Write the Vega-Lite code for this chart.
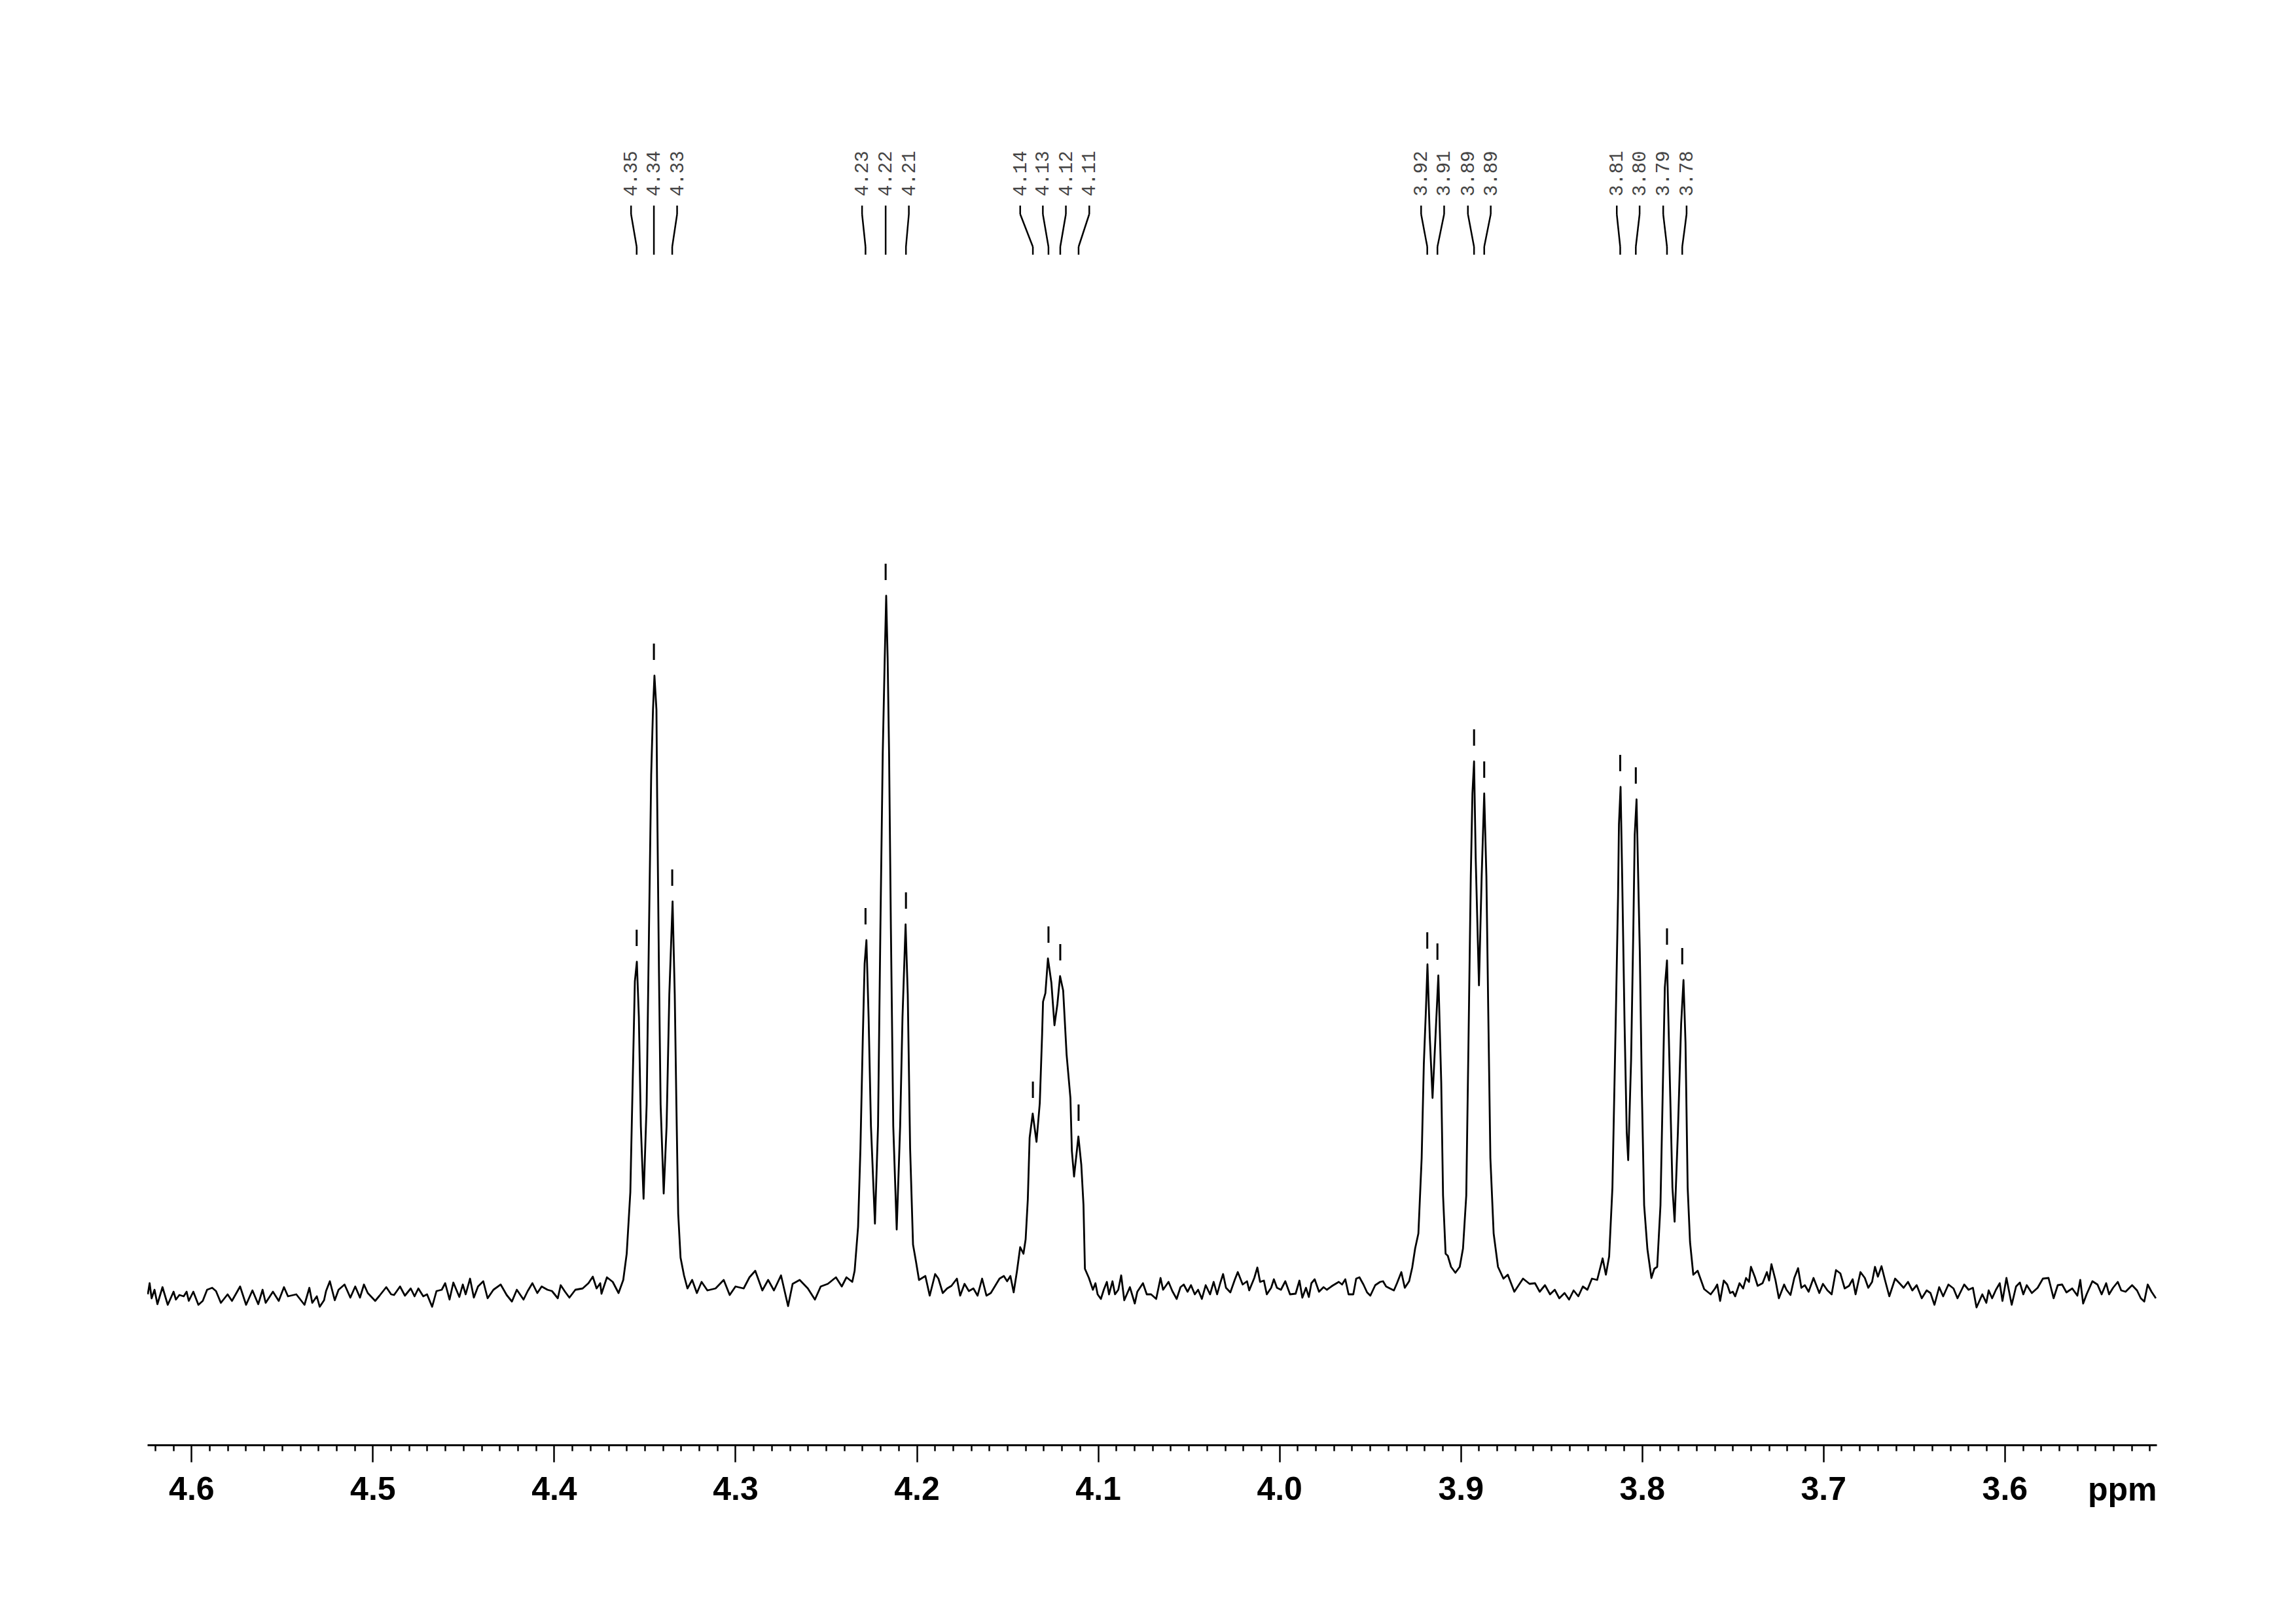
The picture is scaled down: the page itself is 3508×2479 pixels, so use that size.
{
  "$schema": "https://vega.github.io/schema/vega-lite/v6.json",
  "width": 3070,
  "height": 2207,
  "autosize": {"type": "none"},
  "padding": {"left": 225, "top": 0, "right": 213, "bottom": 272},
  "background": "white",
  "config": {"view": {"stroke": null}},
  "datasets": {
    "spectrum": [
      {"ppm":4.6240,"i":-12},{"ppm":4.6230,"i":5},{"ppm":4.6219,"i":-18},{"ppm":4.6203,"i":-5},{"ppm":4.6187,"i":-27},{"ppm":4.6159,"i":-1},{"ppm":4.6130,"i":-28},{"ppm":4.6098,"i":-8},{"ppm":4.6085,"i":-20},{"ppm":4.6066,"i":-13},{"ppm":4.6042,"i":-15},{"ppm":4.6026,"i":-8},{"ppm":4.6014,"i":-22},{"ppm":4.5989,"i":-8},{"ppm":4.5961,"i":-28},{"ppm":4.5937,"i":-22},{"ppm":4.5913,"i":-5},{"ppm":4.5885,"i":-2},{"ppm":4.5864,"i":-7},{"ppm":4.5837,"i":-25},{"ppm":4.5800,"i":-12},{"ppm":4.5776,"i":-22},{"ppm":4.5731,"i":0},{"ppm":4.5698,"i":-28},{"ppm":4.5663,"i":-6},{"ppm":4.5631,"i":-27},{"ppm":4.5607,"i":-5},{"ppm":4.5590,"i":-25},{"ppm":4.5550,"i":-8},{"ppm":4.5518,"i":-22},{"ppm":4.5489,"i":-1},{"ppm":4.5467,"i":-15},{"ppm":4.5421,"i":-12},{"ppm":4.5376,"i":-28},{"ppm":4.5349,"i":-2},{"ppm":4.5333,"i":-25},{"ppm":4.5308,"i":-15},{"ppm":4.5292,"i":-31},{"ppm":4.5268,"i":-21},{"ppm":4.5257,"i":-7},{"ppm":4.5236,"i":8},{"ppm":4.5209,"i":-21},{"ppm":4.5188,"i":-5},{"ppm":4.5155,"i":3},{"ppm":4.5123,"i":-17},{"ppm":4.5096,"i":0},{"ppm":4.5070,"i":-17},{"ppm":4.5048,"i":3},{"ppm":4.5027,"i":-10},{"ppm":4.4986,"i":-22},{"ppm":4.4962,"i":-14},{"ppm":4.4925,"i":-1},{"ppm":4.4898,"i":-12},{"ppm":4.4882,"i":-13},{"ppm":4.4849,"i":0},{"ppm":4.4822,"i":-14},{"ppm":4.4790,"i":-3},{"ppm":4.4769,"i":-15},{"ppm":4.4748,"i":-3},{"ppm":4.4721,"i":-15},{"ppm":4.4700,"i":-12},{"ppm":4.4672,"i":-31},{"ppm":4.4648,"i":-7},{"ppm":4.4619,"i":-5},{"ppm":4.4600,"i":5},{"ppm":4.4576,"i":-20},{"ppm":4.4555,"i":6},{"ppm":4.4522,"i":-16},{"ppm":4.4503,"i":3},{"ppm":4.4487,"i":-12},{"ppm":4.4463,"i":12},{"ppm":4.4442,"i":-17},{"ppm":4.4419,"i":0},{"ppm":4.4390,"i":8},{"ppm":4.4366,"i":-18},{"ppm":4.4334,"i":-5},{"ppm":4.4294,"i":3},{"ppm":4.4261,"i":-13},{"ppm":4.4232,"i":-23},{"ppm":4.4205,"i":-5},{"ppm":4.4168,"i":-20},{"ppm":4.4145,"i":-7},{"ppm":4.4119,"i":5},{"ppm":4.4092,"i":-10},{"ppm":4.4068,"i":0},{"ppm":4.4036,"i":-5},{"ppm":4.4011,"i":-7},{"ppm":4.3979,"i":-18},{"ppm":4.3963,"i":2},{"ppm":4.3939,"i":-8},{"ppm":4.3915,"i":-17},{"ppm":4.3882,"i":-5},{"ppm":4.3842,"i":-3},{"ppm":4.3810,"i":5},{"ppm":4.3786,"i":15},{"ppm":4.3765,"i":-3},{"ppm":4.3745,"i":5},{"ppm":4.3738,"i":-11},
      {"ppm":4.3708,"i":14},{"ppm":4.3676,"i":7},{"ppm":4.3644,"i":-10},{"ppm":4.3618,"i":10},{"ppm":4.3599,"i":50},{"ppm":4.3579,"i":144},{"ppm":4.3566,"i":312},{"ppm":4.3554,"i":466},{"ppm":4.3543,"i":496},{"ppm":4.3532,"i":412},{"ppm":4.3521,"i":245},{"ppm":4.3506,"i":134},{"ppm":4.3489,"i":278},{"ppm":4.3476,"i":546},{"ppm":4.3464,"i":781},{"ppm":4.3454,"i":881},{"ppm":4.3446,"i":933},{"ppm":4.3435,"i":881},{"ppm":4.3431,"i":747},{"ppm":4.3421,"i":479},{"ppm":4.3412,"i":278},{"ppm":4.3395,"i":142},{"ppm":4.3379,"i":245},{"ppm":4.3364,"i":446},{"ppm":4.3346,"i":588},{"ppm":4.3334,"i":446},{"ppm":4.3325,"i":278},{"ppm":4.3315,"i":111},{"ppm":4.3302,"i":44},{"ppm":4.3283,"i":17},{"ppm":4.3264,"i":-3},{"ppm":4.3238,"i":10},{"ppm":4.3212,"i":-10},{"ppm":4.3186,"i":7},{"ppm":4.3154,"i":-6},{"ppm":4.3109,"i":-3},{"ppm":4.3064,"i":10},{"ppm":4.3031,"i":-13},{"ppm":4.2999,"i":0},{"ppm":4.2954,"i":-3},{"ppm":4.2922,"i":14},{"ppm":4.2890,"i":24},{"ppm":4.2851,"i":-6},{"ppm":4.2819,"i":10},{"ppm":4.2787,"i":-6},{"ppm":4.2748,"i":17},{"ppm":4.2709,"i":-30},{"ppm":4.2684,"i":4},{"ppm":4.2645,"i":10},{"ppm":4.2600,"i":-3},{"ppm":4.2561,"i":-20},{"ppm":4.2529,"i":0},{"ppm":4.2490,"i":4},{"ppm":4.2445,"i":14},{"ppm":4.2413,"i":0},{"ppm":4.2387,"i":14},{"ppm":4.2355,"i":7},{"ppm":4.2342,"i":24},{"ppm":4.2323,"i":91},{"ppm":4.2310,"i":211},{"ppm":4.2297,"i":379},{"ppm":4.2287,"i":493},{"ppm":4.2277,"i":529},{"ppm":4.2265,"i":412},{"ppm":4.2252,"i":245},{"ppm":4.2230,"i":96},{"ppm":4.2213,"i":245},{"ppm":4.2200,"i":546},{"ppm":4.2187,"i":814},{"ppm":4.2176,"i":960},{"ppm":4.2168,"i":1055},{"ppm":4.2160,"i":960},{"ppm":4.2152,"i":814},{"ppm":4.2142,"i":546},{"ppm":4.2129,"i":245},{"ppm":4.2110,"i":87},{"ppm":4.2091,"i":245},{"ppm":4.2078,"i":412},{"ppm":4.2061,"i":553},{"ppm":4.2049,"i":446},{"ppm":4.2036,"i":211},{"ppm":4.2020,"i":64},{"ppm":4.2003,"i":37},{"ppm":4.1987,"i":10},
      {"ppm":4.1952,"i":16},{"ppm":4.1928,"i":-14},{"ppm":4.1898,"i":19},{"ppm":4.1880,"i":12},{"ppm":4.1856,"i":-10},{"ppm":4.1832,"i":-3},{"ppm":4.1808,"i":1},{"ppm":4.1778,"i":12},{"ppm":4.1760,"i":-14},{"ppm":4.1736,"i":4},{"ppm":4.1712,"i":-7},{"ppm":4.1687,"i":-3},{"ppm":4.1664,"i":-14},{"ppm":4.1639,"i":12},{"ppm":4.1615,"i":-14},{"ppm":4.1591,"i":-10},{"ppm":4.1567,"i":1},{"ppm":4.1543,"i":12},{"ppm":4.1519,"i":16},{"ppm":4.1501,"i":8},{"ppm":4.1483,"i":16},{"ppm":4.1465,"i":-9},
      {"ppm":4.1447,"i":23},{"ppm":4.1429,"i":60},{"ppm":4.1411,"i":50},{"ppm":4.1399,"i":72},{"ppm":4.1387,"i":133},{"ppm":4.1377,"i":227},{"ppm":4.1360,"i":264},{"ppm":4.1339,"i":221},{"ppm":4.1321,"i":280},{"ppm":4.1308,"i":386},{"ppm":4.1303,"i":435},{"ppm":4.1290,"i":448},{"ppm":4.1276,"i":501},{"ppm":4.1257,"i":464},{"ppm":4.1240,"i":399},{"ppm":4.1224,"i":431},{"ppm":4.1209,"i":474},{"ppm":4.1192,"i":452},{"ppm":4.1173,"i":354},{"ppm":4.1152,"i":288},{"ppm":4.1144,"i":207},{"ppm":4.1132,"i":168},{"ppm":4.1108,"i":229},{"ppm":4.1092,"i":186},{"ppm":4.1080,"i":125},{"ppm":4.1072,"i":27},{"ppm":4.1050,"i":13},
      {"ppm":4.1028,"i":-5},{"ppm":4.1014,"i":5},{"ppm":4.1002,"i":-12},{"ppm":4.0984,"i":-19},{"ppm":4.0968,"i":-5},{"ppm":4.0951,"i":7},{"ppm":4.0939,"i":-12},{"ppm":4.0920,"i":8},{"ppm":4.0906,"i":-12},{"ppm":4.0888,"i":-5},{"ppm":4.0872,"i":17},{"ppm":4.0855,"i":-21},{"ppm":4.0824,"i":-1},{"ppm":4.0797,"i":-26},{"ppm":4.0783,"i":-8},{"ppm":4.0752,"i":5},{"ppm":4.0731,"i":-12},{"ppm":4.0707,"i":-12},{"ppm":4.0679,"i":-19},{"ppm":4.0655,"i":13},{"ppm":4.0641,"i":-5},{"ppm":4.0611,"i":7},{"ppm":4.0590,"i":-7},{"ppm":4.0566,"i":-19},{"ppm":4.0545,"i":-1},{"ppm":4.0527,"i":3},{"ppm":4.0506,"i":-8},{"ppm":4.0487,"i":2},{"ppm":4.0466,"i":-12},{"ppm":4.0448,"i":-5},{"ppm":4.0427,"i":-19},{"ppm":4.0406,"i":2},{"ppm":4.0382,"i":-12},{"ppm":4.0362,"i":7},{"ppm":4.0343,"i":-12},{"ppm":4.0326,"i":5},{"ppm":4.0310,"i":19},{"ppm":4.0294,"i":-2},{"ppm":4.0270,"i":-9},{"ppm":4.0246,"i":10},{"ppm":4.0229,"i":22},{"ppm":4.0202,"i":3},{"ppm":4.0178,"i":8},{"ppm":4.0166,"i":-6},{"ppm":4.0138,"i":13},{"ppm":4.0121,"i":29},{"ppm":4.0106,"i":7},{"ppm":4.0085,"i":9},{"ppm":4.0069,"i":-12},{"ppm":4.0045,"i":-2},{"ppm":4.0030,"i":11},{"ppm":4.0013,"i":-2},{"ppm":3.9991,"i":-5},{"ppm":3.9967,"i":8},{"ppm":3.9941,"i":-12},{"ppm":3.9910,"i":-11},{"ppm":3.9889,"i":9},{"ppm":3.9873,"i":-17},{"ppm":3.9853,"i":-2},{"ppm":3.9837,"i":-16},{"ppm":3.9823,"i":5},{"ppm":3.9805,"i":11},{"ppm":3.9781,"i":-8},{"ppm":3.9756,"i":-1},{"ppm":3.9738,"i":-5},{"ppm":3.9708,"i":1},{"ppm":3.9672,"i":7},{"ppm":3.9654,"i":3},{"ppm":3.9636,"i":11},{"ppm":3.9618,"i":-12},{"ppm":3.9592,"i":-12},{"ppm":3.9576,"i":12},{"ppm":3.9558,"i":14},{"ppm":3.9536,"i":3},{"ppm":3.9516,"i":-9},{"ppm":3.9498,"i":-14},{"ppm":3.9471,"i":2},{"ppm":3.9444,"i":7},{"ppm":3.9428,"i":8},{"ppm":3.9411,"i":0},{"ppm":3.9390,"i":-3},{"ppm":3.9368,"i":-6},{"ppm":3.9351,"i":5},{"ppm":3.9327,"i":22},{"ppm":3.9308,"i":-2},{"ppm":3.9284,"i":8},{"ppm":3.9267,"i":29},
      {"ppm":3.9251,"i":58},{"ppm":3.9233,"i":81},{"ppm":3.9215,"i":196},{"ppm":3.9203,"i":340},{"ppm":3.9191,"i":426},{"ppm":3.9183,"i":492},{"ppm":3.9170,"i":380},{"ppm":3.9155,"i":288},{"ppm":3.9139,"i":380},{"ppm":3.9123,"i":475},{"ppm":3.9107,"i":311},{"ppm":3.9097,"i":139},{"ppm":3.9083,"i":50},{"ppm":3.9071,"i":47},{"ppm":3.9053,"i":30},{"ppm":3.9029,"i":21},{"ppm":3.9005,"i":30},{"ppm":3.8987,"i":58},{"ppm":3.8969,"i":139},{"ppm":3.8957,"i":368},{"ppm":3.8944,"i":627},{"ppm":3.8935,"i":753},{"ppm":3.8926,"i":802},{"ppm":3.8917,"i":655},{"ppm":3.8899,"i":460},{"ppm":3.8884,"i":627},{"ppm":3.8870,"i":753},{"ppm":3.8858,"i":627},{"ppm":3.8848,"i":426},{"ppm":3.8836,"i":196},{"ppm":3.8818,"i":81},{"ppm":3.8794,"i":30},{"ppm":3.8764,"i":12},{"ppm":3.8740,"i":18},{"ppm":3.8704,"i":-8},{"ppm":3.8656,"i":12},{"ppm":3.8620,"i":4},
      {"ppm":3.8590,"i":5},{"ppm":3.8564,"i":-8},{"ppm":3.8535,"i":2},{"ppm":3.8507,"i":-12},{"ppm":3.8481,"i":-5},{"ppm":3.8456,"i":-18},{"ppm":3.8427,"i":-10},{"ppm":3.8402,"i":-20},{"ppm":3.8377,"i":-6},{"ppm":3.8351,"i":-15},{"ppm":3.8326,"i":0},{"ppm":3.8301,"i":-5},{"ppm":3.8276,"i":12},
      {"ppm":3.8247,"i":10},{"ppm":3.8217,"i":43},{"ppm":3.8199,"i":18},{"ppm":3.8181,"i":46},{"ppm":3.8163,"i":151},{"ppm":3.8145,"i":401},{"ppm":3.8132,"i":595},{"ppm":3.8127,"i":706},{"ppm":3.8118,"i":763},{"ppm":3.8109,"i":623},{"ppm":3.8096,"i":401},{"ppm":3.8084,"i":235},{"ppm":3.8076,"i":193},{"ppm":3.8060,"i":346},{"ppm":3.8048,"i":540},{"ppm":3.8040,"i":690},{"ppm":3.8030,"i":744},{"ppm":3.8012,"i":512},{"ppm":3.8000,"i":290},{"ppm":3.7988,"i":124},{"ppm":3.7970,"i":57},{"ppm":3.7948,"i":13},{"ppm":3.7932,"i":27},{"ppm":3.7916,"i":30},{"ppm":3.7898,"i":124},{"ppm":3.7886,"i":290},{"ppm":3.7874,"i":457},{"ppm":3.7862,"i":498},{"ppm":3.7844,"i":290},{"ppm":3.7832,"i":151},{"ppm":3.7820,"i":99},{"ppm":3.7802,"i":235},{"ppm":3.7784,"i":401},{"ppm":3.7771,"i":468},{"ppm":3.7760,"i":373},{"ppm":3.7748,"i":151},{"ppm":3.7735,"i":68},{"ppm":3.7717,"i":18},{"ppm":3.7693,"i":24},{"ppm":3.7657,"i":-4},{"ppm":3.7621,"i":-12},
      {"ppm":3.7597,"i":-3},{"ppm":3.7585,"i":3},{"ppm":3.7569,"i":-22},{"ppm":3.7549,"i":9},{"ppm":3.7530,"i":3},{"ppm":3.7514,"i":-10},{"ppm":3.7499,"i":-8},{"ppm":3.7486,"i":-15},{"ppm":3.7462,"i":5},{"ppm":3.7442,"i":-3},{"ppm":3.7426,"i":13},{"ppm":3.7410,"i":7},{"ppm":3.7399,"i":30},{"ppm":3.7378,"i":15},{"ppm":3.7362,"i":1},{"ppm":3.7335,"i":5},{"ppm":3.7311,"i":22},{"ppm":3.7299,"i":9},{"ppm":3.7286,"i":34},{"ppm":3.7264,"i":10},{"ppm":3.7245,"i":-18},{"ppm":3.7216,"i":3},{"ppm":3.7203,"i":-5},{"ppm":3.7181,"i":-13},{"ppm":3.7160,"i":13},{"ppm":3.7139,"i":28},{"ppm":3.7121,"i":-2},{"ppm":3.7102,"i":2},{"ppm":3.7081,"i":-8},{"ppm":3.7054,"i":13},{"ppm":3.7022,"i":-10},{"ppm":3.7002,"i":4},{"ppm":3.6977,"i":-6},{"ppm":3.6954,"i":-12},{"ppm":3.6930,"i":25},{"ppm":3.6906,"i":20},{"ppm":3.6882,"i":-3},{"ppm":3.6858,"i":1},{"ppm":3.6838,"i":11},{"ppm":3.6822,"i":-12},{"ppm":3.6795,"i":22},{"ppm":3.6771,"i":13},{"ppm":3.6752,"i":-2},{"ppm":3.6731,"i":7},{"ppm":3.6715,"i":30},{"ppm":3.6699,"i":15},{"ppm":3.6679,"i":31},{"ppm":3.6660,"i":10},{"ppm":3.6636,"i":-15},{"ppm":3.6604,"i":12},{"ppm":3.6580,"i":5},{"ppm":3.6557,"i":-2},{"ppm":3.6533,"i":7},{"ppm":3.6509,"i":-6},{"ppm":3.6485,"i":2},{"ppm":3.6457,"i":-18},{"ppm":3.6430,"i":-6},{"ppm":3.6409,"i":-10},{"ppm":3.6387,"i":-28},{"ppm":3.6361,"i":-1},{"ppm":3.6339,"i":-15},{"ppm":3.6310,"i":3},{"ppm":3.6282,"i":-3},{"ppm":3.6260,"i":-18},{"ppm":3.6223,"i":3},{"ppm":3.6199,"i":-5},{"ppm":3.6175,"i":-2},{"ppm":3.6155,"i":-32},{"ppm":3.6123,"i":-12},{"ppm":3.6101,"i":-25},{"ppm":3.6088,"i":-6},{"ppm":3.6069,"i":-18},{"ppm":3.6048,"i":-5},{"ppm":3.6027,"i":5},{"ppm":3.6012,"i":-22},{"ppm":3.5990,"i":13},{"ppm":3.5961,"i":-28},{"ppm":3.5937,"i":0},{"ppm":3.5916,"i":6},{"ppm":3.5897,"i":-12},{"ppm":3.5878,"i":2},{"ppm":3.5850,"i":-10},{"ppm":3.5818,"i":-2},{"ppm":3.5789,"i":12},{"ppm":3.5758,"i":13},{"ppm":3.5730,"i":-18},{"ppm":3.5707,"i":2},{"ppm":3.5683,"i":3},{"ppm":3.5659,"i":-9},{"ppm":3.5627,"i":-3},{"ppm":3.5599,"i":-14},{"ppm":3.5583,"i":10},{"ppm":3.5567,"i":-26},{"ppm":3.5548,"i":-12},{"ppm":3.5516,"i":8},{"ppm":3.5488,"i":3},{"ppm":3.5465,"i":-12},{"ppm":3.5440,"i":5},{"ppm":3.5424,"i":-12},{"ppm":3.5402,"i":-2},{"ppm":3.5376,"i":7},{"ppm":3.5357,"i":-6},{"ppm":3.5333,"i":-8},{"ppm":3.5297,"i":2},{"ppm":3.5270,"i":-6},{"ppm":3.5249,"i":-18},{"ppm":3.5230,"i":-23},{"ppm":3.5211,"i":3},{"ppm":3.5190,"i":-8},{"ppm":3.5166,"i":-18}
    ],
    "peaks": [
      {"label":"4.35","lx":4.3575,"px":4.3544,"h":496},
      {"label":"4.34","lx":4.3449,"px":4.3449,"h":933},
      {"label":"4.33","lx":4.3321,"px":4.3348,"h":588},
      {"label":"4.23","lx":4.2301,"px":4.2282,"h":529},
      {"label":"4.22","lx":4.2171,"px":4.2171,"h":1055},
      {"label":"4.21","lx":4.2043,"px":4.2059,"h":553},
      {"label":"4.14","lx":4.1429,"px":4.1359,"h":264},
      {"label":"4.13","lx":4.1304,"px":4.1273,"h":501},
      {"label":"4.12","lx":4.1177,"px":4.1208,"h":474},
      {"label":"4.11","lx":4.1048,"px":4.1107,"h":229},
      {"label":"3.92","lx":3.9218,"px":3.9184,"h":492},
      {"label":"3.91","lx":3.9091,"px":3.9128,"h":475},
      {"label":"3.89","lx":3.8960,"px":3.8926,"h":802},
      {"label":"3.89","lx":3.8834,"px":3.8870,"h":753},
      {"label":"3.81","lx":3.8139,"px":3.8120,"h":763},
      {"label":"3.80","lx":3.8013,"px":3.8034,"h":744},
      {"label":"3.79","lx":3.7883,"px":3.7862,"h":498},
      {"label":"3.78","lx":3.7754,"px":3.7778,"h":468}
    ]
  },
  "resolve": {"axis": {"x": "independent"}},
  "layer": [
    {
      "data": {"name": "spectrum"},
      "mark": {"type": "line", "color": "black", "strokeWidth": 2.8, "strokeJoin": "round", "clip": true},
      "encoding": {
        "x": {
          "field": "ppm", "type": "quantitative",
          "scale": {"domain": [3.5162, 4.6243], "reverse": true, "nice": false, "zero": false},
          "axis": {
            "orient": "bottom",
            "values": [3.6, 3.7, 3.8, 3.9, 4.0, 4.1, 4.2, 4.3, 4.4, 4.5, 4.6],
            "format": ".1f",
            "tickSize": 26,
            "labelPadding": 17,
            "labelFont": "Liberation Sans", "labelFontWeight": "bold", "labelFontSize": 50, "labelColor": "black",
            "labelOverlap": false, "labelFlush": false, "labelBound": false,
            "domainColor": "black", "domainWidth": 3, "tickColor": "black", "tickWidth": 2.5,
            "grid": false,
            "title": "ppm", "titleFont": "Liberation Sans", "titleFontWeight": "bold", "titleFontSize": 50, "titleColor": "black",
            "titleAnchor": "end", "titleAlign": "right", "titleBaseline": "alphabetic", "titleX": 3070, "titleY": 84
          }
        },
        "y": {
          "field": "i", "type": "quantitative",
          "scale": {"domain": [-242, 1965], "nice": false, "zero": false},
          "axis": null
        }
      }
    },
    {
      "data": {"name": "peaks"},
      "mark": {"type": "rule", "color": "black", "strokeWidth": 3, "yOffset": -24, "y2Offset": -49},
      "encoding": {
        "x": {
          "field": "px", "type": "quantitative",
          "axis": {
            "orient": "bottom",
            "values": [3.52,3.53,3.54,3.55,3.56,3.57,3.58,3.59,3.61,3.62,3.63,3.64,3.65,3.66,3.67,3.68,3.69,3.71,3.72,3.73,3.74,3.75,3.76,3.77,3.78,3.79,3.81,3.82,3.83,3.84,3.85,3.86,3.87,3.88,3.89,3.91,3.92,3.93,3.94,3.95,3.96,3.97,3.98,3.99,4.01,4.02,4.03,4.04,4.05,4.06,4.07,4.08,4.09,4.11,4.12,4.13,4.14,4.15,4.16,4.17,4.18,4.19,4.21,4.22,4.23,4.24,4.25,4.26,4.27,4.28,4.29,4.31,4.32,4.33,4.34,4.35,4.36,4.37,4.38,4.39,4.41,4.42,4.43,4.44,4.45,4.46,4.47,4.48,4.49,4.51,4.52,4.53,4.54,4.55,4.56,4.57,4.58,4.59,4.61,4.62],
            "tickSize": 9, "tickColor": "black", "tickWidth": 2.5,
            "labels": false, "domain": false, "grid": false, "title": null
          }
        },
        "y": {"field": "h", "type": "quantitative", "axis": null},
        "y2": {"field": "h"}
      }
    },
    {
      "data": {"name": "peaks"},
      "mark": {"type": "rule", "color": "black", "strokeWidth": 2.5},
      "encoding": {
        "x": {"field": "lx", "type": "quantitative", "axis": null},
        "y": {"datum": 1651, "type": "quantitative", "axis": null},
        "y2": {"datum": 1638}
      }
    },
    {
      "data": {"name": "peaks"},
      "mark": {"type": "rule", "color": "black", "strokeWidth": 2.5},
      "encoding": {
        "x": {"field": "lx", "type": "quantitative", "axis": null},
        "x2": {"field": "px"},
        "y": {"datum": 1638, "type": "quantitative", "axis": null},
        "y2": {"datum": 1588}
      }
    },
    {
      "data": {"name": "peaks"},
      "mark": {"type": "rule", "color": "black", "strokeWidth": 2.5},
      "encoding": {
        "x": {"field": "px", "type": "quantitative", "axis": null},
        "y": {"datum": 1588, "type": "quantitative", "axis": null},
        "y2": {"datum": 1576}
      }
    },
    {
      "data": {"name": "peaks"},
      "mark": {"type": "text", "angle": 270, "align": "left", "baseline": "middle", "font": "Liberation Mono", "fontSize": 29, "color": "#444444"},
      "encoding": {
        "x": {"field": "lx", "type": "quantitative", "axis": null},
        "y": {"datum": 1665, "type": "quantitative", "axis": null},
        "text": {"field": "label"}
      }
    }
  ]
}
